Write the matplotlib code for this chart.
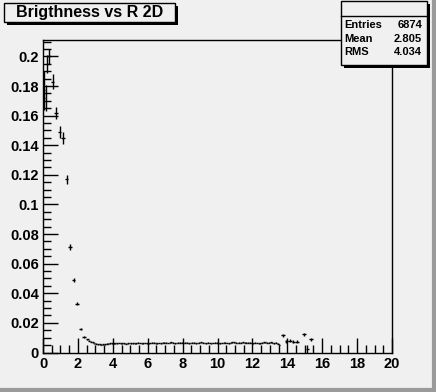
import numpy as np
import matplotlib
matplotlib.use("Agg")
import matplotlib.pyplot as plt
from matplotlib.patches import Rectangle
from matplotlib.ticker import MultipleLocator

# first bins
x_head = [0.05, 0.15, 0.25, 0.35, 0.55, 0.75, 0.95, 1.15, 1.35, 1.55, 1.75, 1.95, 2.15, 2.35, 2.55]
y_head = [0.177, 0.172, 0.195, 0.200, 0.183, 0.162, 0.149, 0.145, 0.117, 0.071, 0.049, 0.033, 0.016, 0.0106, 0.0088]
e_head = [0.013, 0.009, 0.006, 0.005, 0.005, 0.004, 0.004, 0.004, 0.003, 0.002, 0.0015, 0.001, 0.0008, 0.0005, 0.0004]
w_head = [0.05, 0.05, 0.1, 0.1, 0.1, 0.1, 0.1, 0.1, 0.1, 0.1, 0.1, 0.1, 0.1, 0.1, 0.1]

# flat tail, 0.1 wide bins from 2.6 to 13.7
tail_start = 2.65
y_tail = [
    0.0080, 0.0074, 0.0068, 0.0063, 0.0060, 0.0057, 0.0055, 0.0054, 0.0055, 0.0056,
    0.0058, 0.0060, 0.0062, 0.0063, 0.0062, 0.0061, 0.0062, 0.0064, 0.0063, 0.0062,
    0.0061, 0.0060, 0.0062, 0.0064, 0.0063, 0.0061, 0.0062, 0.0063, 0.0065, 0.0064,
    0.0062, 0.0063, 0.0064, 0.0063, 0.0062, 0.0064, 0.0066, 0.0065, 0.0063, 0.0062,
    0.0064, 0.0063, 0.0065, 0.0067, 0.0066, 0.0064, 0.0065, 0.0068, 0.0066, 0.0063,
    0.0064, 0.0066, 0.0067, 0.0065, 0.0064, 0.0066, 0.0065, 0.0063, 0.0064, 0.0066,
    0.0065, 0.0063, 0.0064, 0.0067, 0.0068, 0.0066, 0.0064, 0.0063, 0.0065, 0.0064,
    0.0063, 0.0064, 0.0066, 0.0065, 0.0063, 0.0062, 0.0064, 0.0065, 0.0066, 0.0064,
    0.0063, 0.0065, 0.0070, 0.0068, 0.0066, 0.0064, 0.0066, 0.0067, 0.0068, 0.0066,
    0.0065, 0.0067, 0.0066, 0.0064, 0.0063, 0.0065, 0.0064, 0.0062, 0.0063, 0.0066,
    0.0068, 0.0070, 0.0067, 0.0066, 0.0069, 0.0065, 0.0063, 0.0066, 0.0060, 0.0054,
]
x_tail = [tail_start + 0.1 * i for i in range(len(y_tail))]

# sparse points at the end
x_end = [13.75, 13.95, 14.15, 14.35, 14.55, 14.95, 15.15, 15.35]
y_end = [0.0117, 0.0075, 0.0078, 0.0072, 0.0074, 0.0122, 0.0025, 0.0088]
e_end = [0.0010, 0.0010, 0.0010, 0.0010, 0.0010, 0.0012, 0.0025, 0.0010]

stats = [("Entries", "6874"), ("Mean", "2.805"), ("RMS", "4.034")]
title = "Brigthness vs R 2D"

bg = "#f0f0f0"
W, H = 436, 392
fig = plt.figure(figsize=(W / 100, H / 100), dpi=100, facecolor=bg)

def fx(px):
    return px / W

def fy(py):
    return 1 - py / H

def box(x0, y0, x1, y1, shadow=3):
    # ROOT style pave: black shadow to the lower right, then the box
    fig.patches.append(Rectangle((fx(x0 + shadow), fy(y1 + shadow)), fx(x1) - fx(x0), fy(y0) - fy(y1),
                                 transform=fig.transFigure, facecolor="k", edgecolor="none", zorder=5))
    fig.patches.append(Rectangle((fx(x0), fy(y1)), fx(x1) - fx(x0), fy(y0) - fy(y1),
                                 transform=fig.transFigure, facecolor=bg, edgecolor="k", lw=1, zorder=6))

ax = fig.add_axes([fx(43), fy(352.5), fx(392) - fx(43), fy(40) - fy(352.5)])
ax.set_facecolor(bg)

ax.errorbar(x_head, y_head, yerr=e_head, xerr=w_head, fmt="none", ecolor="k", elinewidth=1, capsize=0)
ax.errorbar(x_tail, y_tail, yerr=0.0003, xerr=0.05, fmt="none", ecolor="k", elinewidth=1, capsize=0)
ax.errorbar(x_end, y_end, yerr=e_end, xerr=0.1, fmt="none", ecolor="k", elinewidth=1, capsize=0)

ax.set_xlim(0, 20)
ax.set_ylim(0, 0.2111)
ax.xaxis.set_major_locator(MultipleLocator(2))
ax.xaxis.set_minor_locator(MultipleLocator(0.5))
ax.yaxis.set_major_locator(MultipleLocator(0.02))
ax.yaxis.set_minor_locator(MultipleLocator(0.005))
ax.xaxis.set_major_formatter(plt.FuncFormatter(lambda v, p: "%g" % v))
ax.yaxis.set_major_formatter(plt.FuncFormatter(lambda v, p: "%g" % round(v, 3)))
ax.tick_params(which="both", direction="in", top=False, right=False, colors="k")
ax.tick_params(which="major", length=11, width=1)
ax.tick_params(which="minor", length=5.5, width=1)
ax.tick_params(axis="both", labelsize=10.5, pad=3)
for lab in ax.get_xticklabels() + ax.get_yticklabels():
    lab.set_fontweight("bold")
    lab.set_family("Liberation Sans")
for s in ax.spines.values():
    s.set_linewidth(1)
    s.set_color("k")

# title box
box(4, 3, 175, 22)
fig.text(fx(90), fy(12.5), title, ha="center", va="center", fontsize=11.5, fontweight="bold",
         family="Liberation Sans", zorder=7)

# stats box
box(341, 1, 427, 65)
fig.add_artist(plt.Line2D([fx(341), fx(427)], [fy(16), fy(16)], transform=fig.transFigure, color="k", lw=1, zorder=7))
for i, (k, v) in enumerate(stats):
    yy = fy(25 + 13.5 * i)
    fig.text(fx(344), yy, k, ha="left", va="center", fontsize=8, fontweight="bold", family="Liberation Sans", zorder=8)
    fig.text(fx(422), yy, v, ha="right", va="center", fontsize=8, fontweight="bold", family="Liberation Sans", zorder=8)

# canvas bevel
fig.add_artist(plt.Line2D([fx(434), fx(434)], [0, 1], transform=fig.transFigure, color="#9a9a9a", lw=3))
fig.add_artist(plt.Line2D([0, 1], [fy(390), fy(390)], transform=fig.transFigure, color="#9a9a9a", lw=3))

fig.savefig("out.png", dpi=100, facecolor=bg)
